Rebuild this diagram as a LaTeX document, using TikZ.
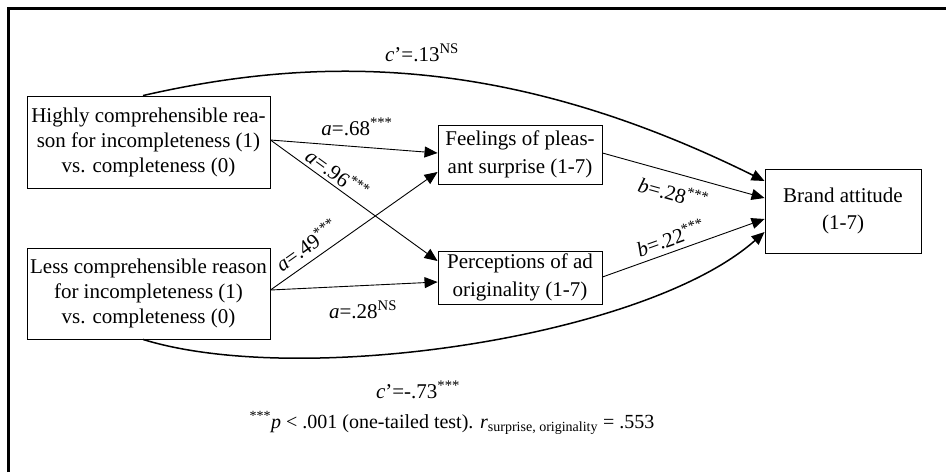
\documentclass[tikz,border=0pt]{standalone}
\usepackage{fontspec}
\setmainfont{Liberation Serif}
\usetikzlibrary{arrows.meta}
\begin{document}
\begin{tikzpicture}[x=1pt,y=-1pt,
  box/.style={draw, line width=0.9pt, inner sep=0pt, align=center, font=\fontsize{21}{25}\selectfont},
  medbox/.style={box, font=\fontsize{21}{27.5}\selectfont},
  lbl/.style={font=\fontsize{21}{25}\selectfont, inner sep=1pt},
  conn/.style={line width=0.9pt, -{Triangle[length=13pt,width=11pt]}},
  curv/.style={line width=1.5pt, -{Triangle[length=13pt,width=11pt]}},
]
\useasboundingbox (0,0) rectangle (946,472);
\draw[line width=2.5pt] (8.5,472) -- (8.5,8.5) -- (946,8.5);

\node[box, minimum width=243pt, minimum height=92pt] (hi) at (148.5,142)
  {Highly comprehensible rea-\\son for incompleteness (1)\\vs. completeness (0)};
\node[box, minimum width=243pt, minimum height=91pt] (lo) at (148.5,293.5)
  {Less comprehensible reason\\for incompleteness (1)\\vs. completeness (0)};
\node[medbox, minimum width=164pt, minimum height=59pt] (fe) at (520,154.5)
  {Feelings of pleas-\\ant surprise (1-7)};
\node[medbox, minimum width=164pt, minimum height=53pt] (pe) at (520,277.5)
  {Perceptions of ad\\originality (1-7)};
\node[medbox, minimum width=156pt, minimum height=84pt] (ba) at (843,211)
  {Brand attitude\\(1-7)};

% a paths
\draw[conn] ([yshift=2pt]hi.east) -- ([yshift=1.5pt]fe.west);
\node[lbl] (l68) at (357,127) {\textit{a}=.68\textsuperscript{***}};
\draw[conn] ([yshift=2pt]hi.east) -- node[lbl, sloped, above=2pt, pos=.36] (l96) {\textit{a}=.96\textsuperscript{***}} ([yshift=16.5pt]pe.west);
\draw[conn] ([yshift=3.5pt]lo.east) -- node[lbl, sloped, above=6pt, pos=.27] (l49) {\textit{a}=.49\textsuperscript{***}} ([yshift=-17.5pt]fe.west);
\draw[conn] ([yshift=3.5pt]lo.east) -- ([yshift=-4.5pt]pe.west);
\node[lbl] (l28) at (363,310) {\textit{a}=.28\textsuperscript{NS}};

% b paths
\draw[conn] ([yshift=1.5pt]fe.east) -- node[lbl, sloped, below=9pt, pos=.47] (lb28) {\textit{b}=.28\textsuperscript{***}} ([yshift=13pt]ba.west);
\draw[conn] ([yshift=0.5pt]pe.east) -- node[lbl, sloped, above=4pt, pos=.45] (lb22) {\textit{b}=.22\textsuperscript{***}} ([yshift=-8pt]ba.west);

% c' paths
\draw[curv] ([xshift=-5.5pt]hi.north) .. controls (320,55) and (510,55) .. ([yshift=30pt]ba.west);
\node[lbl] (c13) at (422,53) {\textit{c}’=.13\textsuperscript{NS}};
\draw[curv] ([xshift=-5.5pt]lo.south) .. controls (300,388) and (645,338) .. ([yshift=-21pt]ba.west);
\node[lbl] (c73) at (418,390) {\textit{c}’=-.73\textsuperscript{***}};

\node[font=\fontsize{20}{24}\selectfont, inner sep=0pt] (fn) at (452,423)
  {\textsuperscript{***}\textit{p} < .001 (one-tailed test). \textit{r}\textsubscript{surprise, originality} = .553};
\end{tikzpicture}
\end{document}
